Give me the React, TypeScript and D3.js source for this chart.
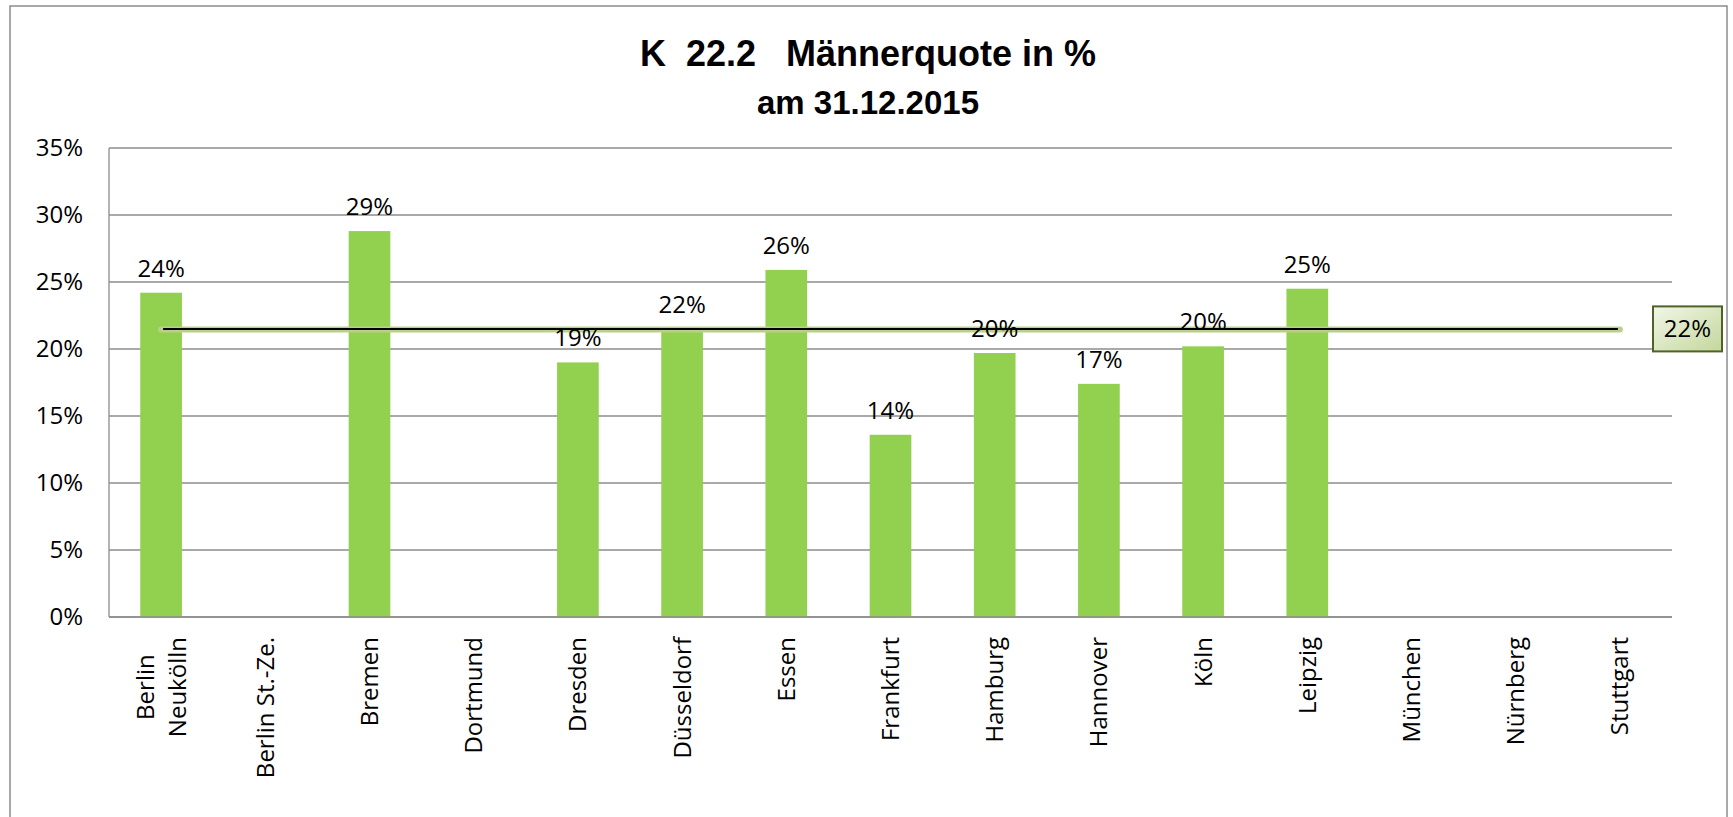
import React, { useEffect, useRef } from 'react';
import * as d3 from 'd3';

const categories = [
  'Berlin\nNeukölln', 'Berlin St.-Ze.', 'Bremen', 'Dortmund', 'Dresden', 'Düsseldorf', 'Essen',
  'Frankfurt', 'Hamburg', 'Hannover', 'Köln', 'Leipzig', 'München', 'Nürnberg', 'Stuttgart',
];
// Männerquote in %, null = no value
const quota: (number | null)[] = [24.2, null, 28.8, null, 19.0, 21.5, 25.9, 13.6, 19.7, 17.4, 20.2, 24.5, null, null, null];
const average = 21.5;
const yTicks = [0, 5, 10, 15, 20, 25, 30, 35];
const titleLines = ['K  22.2   Männerquote in %', 'am 31.12.2015'];

const App: React.FC = () => {
  const svgRef = useRef<SVGSVGElement | null>(null);

  useEffect(() => {
    if (!svgRef.current) return;
    const svg = d3.select(svgRef.current);
    svg.selectAll('*').remove();

    const width = 1733;
    const height = 817;
    const plot = { left: 109, right: 1672, top: 148, bottom: 617 };
    const font = '"Open Sans", sans-serif';
    const grey = '#8c8c8c';

    // outer frame
    svg.append('rect')
      .attr('x', 10).attr('y', 6)
      .attr('width', 1717).attr('height', height)
      .attr('fill', '#fff').attr('stroke', grey).attr('stroke-width', 1.5);

    // title
    const title = svg.append('text')
      .attr('text-anchor', 'middle')
      .attr('font-family', '"Liberation Sans", Arial, sans-serif')
      .attr('font-weight', 'bold')
      .attr('xml:space', 'preserve')
      .style('white-space', 'pre');
    const titleSizes = [36, 33];
    const titleBase = [66, 114];
    titleLines.forEach((t, i) => {
      title.append('tspan')
        .attr('x', 868).attr('y', titleBase[i])
        .attr('font-size', titleSizes[i])
        .text(t);
    });

    const x = d3.scaleBand<string>()
      .domain(categories)
      .range([plot.left, plot.right])
      .paddingInner(0.6)
      .paddingOuter(0.3);

    const y = d3.scaleLinear()
      .domain([0, 35])
      .range([plot.bottom, plot.top]);

    // gridlines
    svg.append('g')
      .selectAll('line')
      .data(yTicks)
      .enter()
      .append('line')
      .attr('x1', plot.left).attr('x2', plot.right)
      .attr('y1', d => y(d)).attr('y2', d => y(d))
      .attr('stroke', grey).attr('stroke-width', 1.3);

    // y axis line
    svg.append('line')
      .attr('x1', plot.left).attr('x2', plot.left)
      .attr('y1', plot.top).attr('y2', plot.bottom)
      .attr('stroke', grey).attr('stroke-width', 1.3);

    // y tick labels
    svg.append('g')
      .selectAll('text')
      .data(yTicks)
      .enter()
      .append('text')
      .attr('x', 83)
      .attr('y', d => y(d))
      .attr('dy', '0.35em')
      .attr('text-anchor', 'end')
      .attr('font-family', font)
      .attr('font-size', 24)
      .attr('fill', '#000')
      .text(d => `${d}%`);

    const data = categories.map((c, i) => ({ name: c, value: quota[i] }))
      .filter(d => d.value !== null) as { name: string; value: number }[];

    // bars
    svg.append('g')
      .selectAll('rect')
      .data(data)
      .enter()
      .append('rect')
      .attr('x', d => x(d.name) || 0)
      .attr('y', d => y(d.value))
      .attr('width', x.bandwidth())
      .attr('height', d => plot.bottom - y(d.value))
      .attr('fill', '#92d050');

    // bottom axis line over bars
    svg.append('line')
      .attr('x1', plot.left).attr('x2', plot.right)
      .attr('y1', plot.bottom).attr('y2', plot.bottom)
      .attr('stroke', grey).attr('stroke-width', 1.3);

    // average line
    const cx = (c: string) => (x(c) || 0) + x.bandwidth() / 2;
    const avgG = svg.append('g');
    avgG.append('line')
      .attr('x1', cx(categories[0])).attr('x2', cx(categories[categories.length - 1]))
      .attr('y1', y(average) + 0.5).attr('y2', y(average) + 0.5)
      .attr('stroke', '#b9cf8c').attr('stroke-width', 6).attr('stroke-linecap', 'round');
    avgG.append('line')
      .attr('x1', cx(categories[0]) + 2).attr('x2', cx(categories[categories.length - 1]) - 2)
      .attr('y1', y(average)).attr('y2', y(average))
      .attr('stroke', '#000').attr('stroke-width', 2);

    // data labels
    svg.append('g')
      .selectAll('text')
      .data(data)
      .enter()
      .append('text')
      .attr('x', d => cx(d.name))
      .attr('y', d => y(d.value) - 16)
      .attr('text-anchor', 'middle')
      .attr('font-family', font)
      .attr('font-size', 24)
      .attr('fill', '#000')
      .text(d => `${Math.round(d.value)}%`);

    // average label box
    const defs = svg.append('defs');
    const grad = defs.append('linearGradient')
      .attr('id', 'avgGrad').attr('x1', 0).attr('y1', 0).attr('x2', 1).attr('y2', 1);
    grad.append('stop').attr('offset', '0%').attr('stop-color', '#f2f6e8');
    grad.append('stop').attr('offset', '100%').attr('stop-color', '#c4d79b');
    const boxX = 1653;
    const boxW = 69;
    const boxH = 45;
    svg.append('rect')
      .attr('x', boxX).attr('y', y(average) - boxH / 2)
      .attr('width', boxW).attr('height', boxH)
      .attr('fill', 'url(#avgGrad)')
      .attr('stroke', '#4f6228').attr('stroke-width', 2);
    svg.append('text')
      .attr('x', boxX + boxW / 2)
      .attr('y', y(average))
      .attr('dy', '0.35em')
      .attr('text-anchor', 'middle')
      .attr('font-family', font)
      .attr('font-size', 24)
      .attr('fill', '#000')
      .text(`${Math.round(average)}%`);

    // x labels, rotated
    const labelTop = plot.bottom + 20;
    const lineGap = 32;
    categories.forEach(c => {
      const lines = c.split('\n');
      const g = svg.append('g');
      const texts = lines.map((l, i) => g.append('text')
        .attr('transform', `translate(${cx(c) + (i - (lines.length - 1) / 2) * lineGap},${labelTop}) rotate(-90)`)
        .attr('dy', '0.35em')
        .attr('text-anchor', 'end')
        .attr('font-family', font)
        .attr('font-size', 24)
        .attr('fill', '#000')
        .text(l));
      const lens = texts.map(t => (t.node() as SVGTextElement).getComputedTextLength());
      const maxLen = d3.max(lens) || 0;
      texts.forEach((t, i) => {
        const shift = (maxLen - lens[i]) / 2;
        t.attr('transform', `translate(${cx(c) + (i - (lines.length - 1) / 2) * lineGap},${labelTop + shift}) rotate(-90)`);
      });
    });

    svg.attr('width', width).attr('height', height);
  }, []);

  return (
    <svg ref={svgRef} width={1733} height={817}
      style={{ position: 'absolute', left: 0, top: 0, display: 'block', background: '#fff' }} />
  );
};

export default App;
